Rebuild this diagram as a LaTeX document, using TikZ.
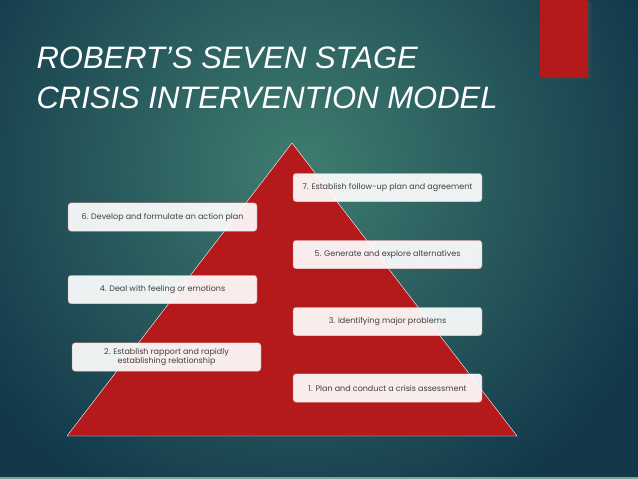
\documentclass[tikz,border=0pt]{standalone}
\usepackage{fontspec}
\setmainfont{Liberation Sans}
\newfontfamily\boxfont{Poppins}
\usetikzlibrary{shadows}
\definecolor{deepteal}{HTML}{12384A}
\definecolor{liteteal}{HTML}{3F7D70}
\definecolor{slidered}{HTML}{B4191B}
\tikzset{
    stagebox/.style={draw=slidered!60, fill=white, fill opacity=0.92, text opacity=1,
        rounded corners=3pt, minimum width=189pt, minimum height=28.5pt, inner sep=1pt,
        align=center, text=black!75, font=\boxfont\fontsize{8}{9}\selectfont}
}
\begin{document}
\begin{tikzpicture}[x=1pt, y=-1pt]

    % Background
    \useasboundingbox (0,0) rectangle (638,479);
    \fill[deepteal] (0,0) rectangle (638,479);
    \shade[inner color=liteteal, outer color=deepteal] (300,170) circle (380);
    \draw[liteteal!70, line width=1.5pt] (0,478) -- (638,478);

    % Red tab with shadow
    \fill[black!70, opacity=0.5] (542,2) rectangle (591,79);
    \fill[slidered] (540,0) rectangle (588,77);

    % Title
    \node[anchor=west, text=white, font=\fontsize{31}{36}\selectfont\itshape] (title1) at (33,58) {ROBERT'S SEVEN STAGE};
    \node[anchor=west, text=white, font=\fontsize{31}{36}\selectfont\itshape] (title2) at (33,98) {CRISIS INTERVENTION MODEL};

    % Pyramid
    \draw[white, thin, fill=slidered] (292,143) -- (517,436) -- (67,436) -- cycle;

    % Stages
    \node[stagebox] (s7) at (387.5,187.5) {7. Establish follow-up plan and agreement};
    \node[stagebox] (s6) at (162.5,217) {6. Develop and formulate an action plan};
    \node[stagebox] (s5) at (387.5,254.5) {5. Generate and explore alternatives};
    \node[stagebox] (s4) at (162.5,289.5) {4. Deal with feeling or emotions};
    \node[stagebox] (s3) at (387.5,321.5) {3. Identifying major problems};
    \node[stagebox] (s2) at (166.5,357) {2. Establish rapport and rapidly\\establishing relationship};
    \node[stagebox] (s1) at (387.5,388) {1. Plan and conduct a crisis assessment};

\end{tikzpicture}
\end{document}
